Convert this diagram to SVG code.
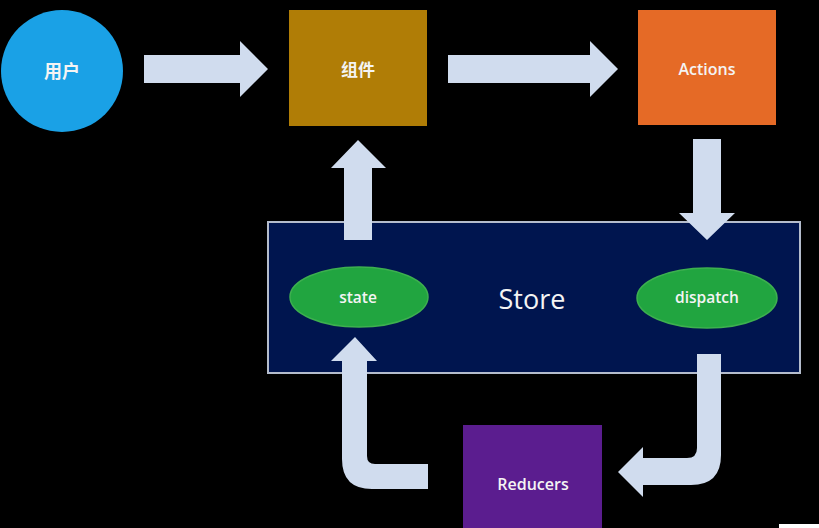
<svg xmlns="http://www.w3.org/2000/svg" width="819" height="528" viewBox="0 0 819 528">
<style>
.lbl{font-family:"Open Sans","Noto Sans","Noto Sans CJK SC",sans-serif;fill:#F4F4F4;text-anchor:middle;dominant-baseline:central;font-weight:600}
.big{font-weight:400}
.arrow{fill:#D0DCEE}
.oval{fill:#21A540;stroke:#3DB04F;stroke-width:1.5}
</style>
<rect x="0" y="0" width="819" height="528" fill="#000"/>
<g id="user">
<circle cx="62" cy="71" r="61" fill="#1AA1E6"/>
<text class="lbl" x="62" y="71" font-size="18">用户</text>
</g>
<g id="component">
<rect x="289" y="10" width="138" height="116" fill="#B07D06"/>
<text class="lbl" x="358" y="69" font-size="17">组件</text>
</g>
<g id="actions">
<rect x="638" y="10" width="138" height="115" fill="#E56A26"/>
<text class="lbl" x="707" y="69" font-size="16">Actions</text>
</g>
<g id="store">
<rect x="268" y="222" width="532" height="151" fill="#00154F" stroke="#B4BCCC" stroke-width="2"/>
<text class="lbl big" x="532" y="298" font-size="27">Store</text>
</g>
<g id="state">
<ellipse class="oval" cx="359" cy="297" rx="69" ry="30"/>
<text class="lbl" x="358" y="297" font-size="15.5">state</text>
</g>
<g id="dispatch">
<ellipse class="oval" cx="707" cy="298" rx="70" ry="30"/>
<text class="lbl" x="707" y="297" font-size="15.5">dispatch</text>
</g>
<g id="reducers">
<rect x="463" y="425" width="139" height="110" fill="#5B1D8F"/>
<text class="lbl" x="533" y="484" font-size="16">Reducers</text>
</g>
<g id="connectors">
<path class="arrow" d="M144,55 H240 V41 L268,69 L240,97 V83 H144 Z"/>
<path class="arrow" d="M448,55 H590 V41 L618,69 L590,97 V83 H448 Z"/>
<path class="arrow" d="M693,139 H721 V213 H735 L707,240 L679,213 H693 Z"/>
<path class="arrow" d="M344,240 V168 H331 L358,140 L386,168 H372 V240 Z"/>
<path class="arrow" d="M697,354 H721 V455 Q721,485 691,485 H643 V497 L618,472 L643,447 V458 H687 Q697,458 697,448 Z"/>
<path class="arrow" d="M428,464 V489 H372 Q342,489 342,459 V361 H331 L355,337 L377,361 H367 V456 Q367,464 375,464 Z"/>
</g>
<rect x="779" y="524" width="40" height="4" fill="#FFFFFF"/>
</svg>
